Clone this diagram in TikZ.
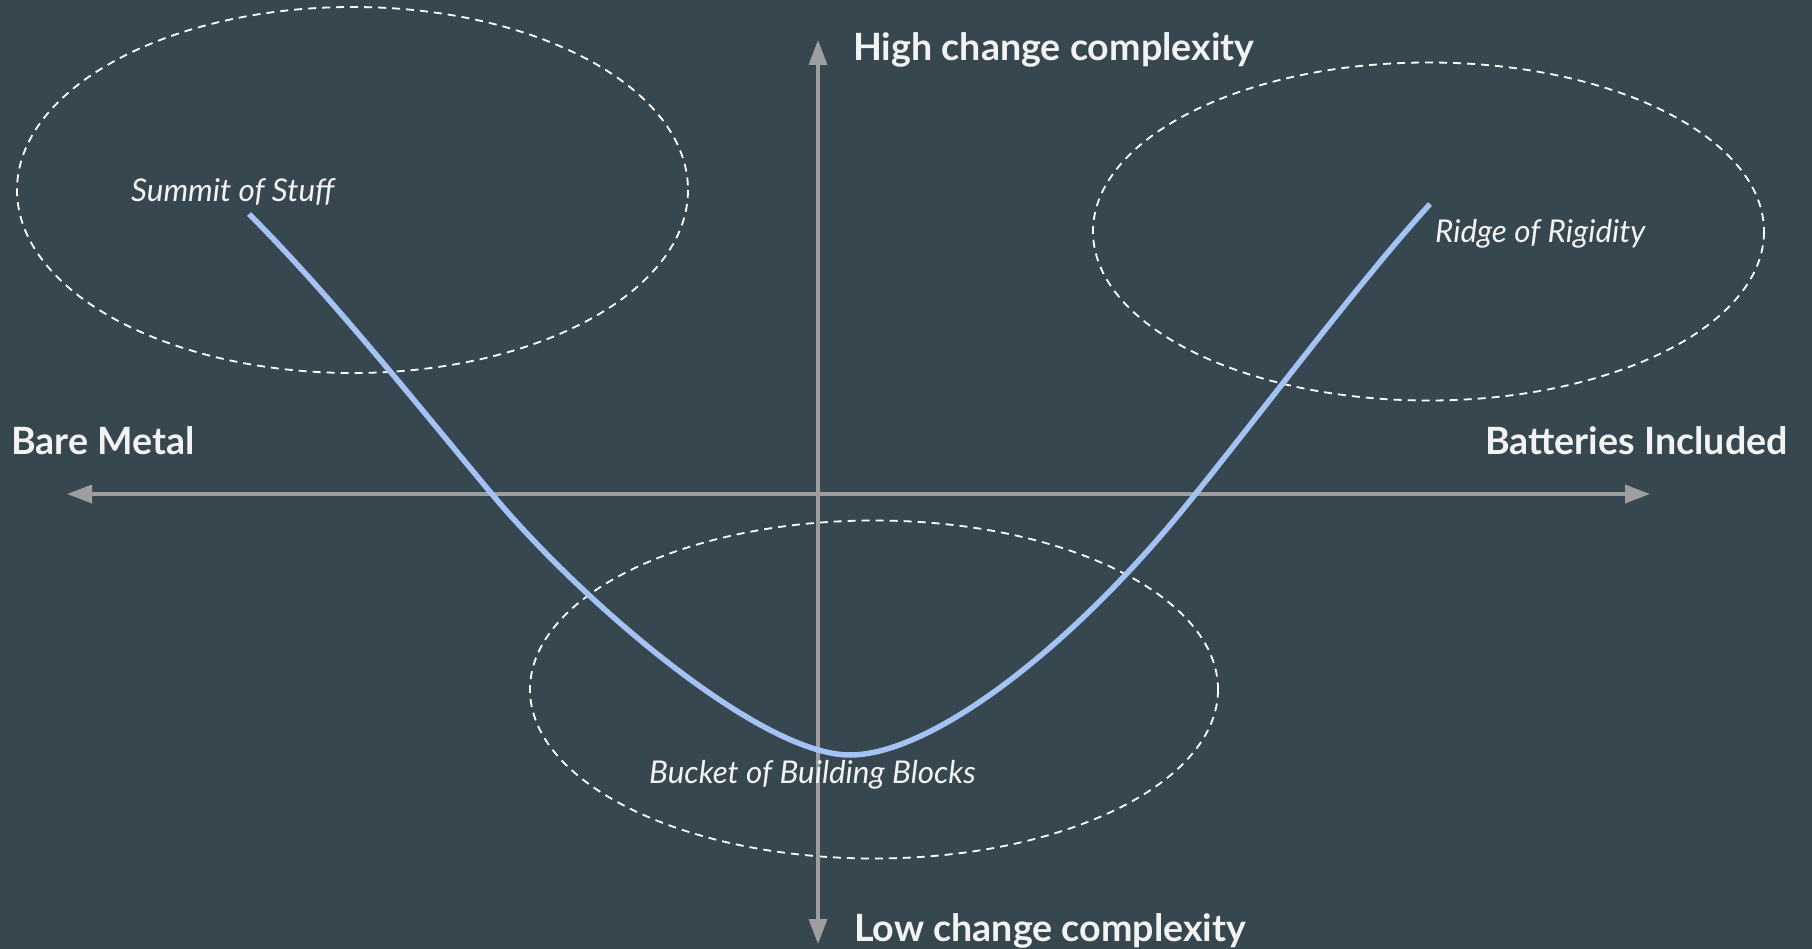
\documentclass[tikz,border=0pt]{standalone}
\usepackage{fontspec}
\setmainfont{Lato}
\usetikzlibrary{arrows.meta}
\definecolor{bgc}{HTML}{37474F}
\definecolor{axisc}{HTML}{9E9E9E}
\definecolor{curvec}{HTML}{A4C2F4}
\definecolor{txtc}{HTML}{F3F3F3}
\tikzset{
  axisline/.style={draw=axisc, line width=3.5pt, -{Triangle[length=25pt,width=18pt]}},
  zone/.style={draw=white, line width=1.8pt, dash pattern=on 8pt off 6pt},
  axislabel/.style={text=txtc, font=\fontsize{37.6pt}{42pt}\selectfont\bfseries, inner sep=0pt, anchor=base west},
  zonelabel/.style={text=txtc, font=\fontsize{31.4pt}{35pt}\selectfont\itshape, inner sep=0pt, anchor=base west},
  curveline/.style={draw=curvec, line width=5.5pt}
}
\begin{document}
\begin{tikzpicture}[x=1pt,y=-1pt]
\fill[bgc] (0,0) rectangle (1812,949);
\useasboundingbox (0,0) rectangle (1812,949);
% zones
\draw[zone] (352.5,190) ellipse [x radius=335.5, y radius=183];
\draw[zone] (1428.5,231.5) ellipse [x radius=335.5, y radius=169];
\draw[zone] (874,689.5) ellipse [x radius=344, y radius=169];
% axes
\coordinate (xl) at (67,494);
\coordinate (xr) at (1650,494);
\coordinate (yt) at (818,40);
\coordinate (yb) at (818,944);
\coordinate (o) at (818,494);
\draw[axisline] (o) -- (xl);
\draw[axisline] (o) -- (xr);
\draw[axisline] (o) -- (yt);
\draw[axisline] (o) -- (yb);
% curve
\coordinate (ca) at (249,214);
\coordinate (cb) at (491,493);
\coordinate (cm) at (850,755);
\coordinate (cc) at (1189,502);
\coordinate (cd) at (1430,204);
\draw[curveline] (ca) .. controls (329,294) and (411,397) .. (cb)
  .. controls (581,601) and (760,755) .. (cm)
  .. controls (930,755) and (1069,650.8) .. (cc)
  .. controls (1269,402.8) and (1360,281) .. (cd);
% labels
\node[axislabel] (high) at (853,61) {High change complexity};
\node[axislabel] (low) at (854,941) {Low change complexity};
\node[axislabel] (bare) at (11,454) {Bare Metal};
\node[axislabel] (batt) at (1485,454) {Batteries Included};
\node[zonelabel] (summit) at (131,202) {Summit of Stuff};
\node[zonelabel] (ridge) at (1435,243) {Ridge of Rigidity};
\node[zonelabel] (bucket) at (649,783) {Bucket of Building Blocks};
\end{tikzpicture}
\end{document}
